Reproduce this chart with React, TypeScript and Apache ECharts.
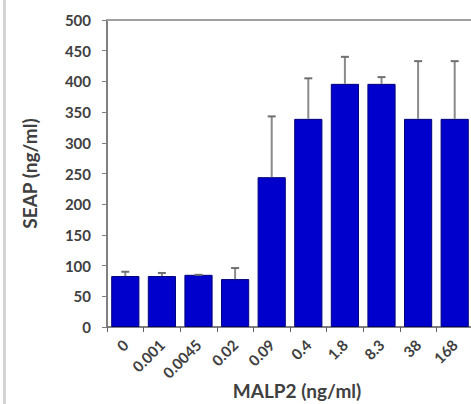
import React, { useEffect, useRef } from "react";
import * as echarts from "echarts";

const categories = ["0", "0.001", "0.0045", "0.02", "0.09", "0.4", "1.8", "8.3", "38", "168"];
const seapValues = [83, 83, 85, 78, 244, 339, 396, 396, 339, 339];
const errorTops = [90, 88, 85, 96, 343, 405, 440, 407, 433, 433];

const FONT = "Lato, 'Open Sans', sans-serif";

export default function App() {
  const ref = useRef<HTMLDivElement>(null);
  useEffect(() => {
    document.body.style.margin = "0";
    const chart = echarts.init(ref.current!, null, { renderer: "svg" });
    const errData = categories.map((_, i) => [i, seapValues[i], errorTops[i]]);
    chart.setOption({
      animation: false,
      backgroundColor: "#ffffff",
      grid: { left: 107, top: 20, width: 366, height: 307, containLabel: false, outerBoundsMode: "none" },
      xAxis: [
        {
          type: "category",
          data: categories,
          position: "bottom",
          axisLine: { lineStyle: { color: "#808080", width: 2 } },
          axisTick: { show: true, length: 5, alignWithLabel: false, lineStyle: { color: "#606060", width: 1 } },
          axisLabel: {
            rotate: 45,
            margin: 15,
            interval: 0,
            fontFamily: FONT,
            fontWeight: "bold",
            fontSize: 15,
            color: "#404040",
          },
          name: "MALP2 (ng/ml)",
          nameLocation: "middle",
          nameGap: 54,
          nameMoveOverlap: false,
          nameTextStyle: { fontFamily: FONT, fontWeight: "bold", fontSize: 19, color: "#404040", padding: [0, 0, 0, 14] },
        },
        {
          type: "category",
          data: categories,
          position: "top",
          axisLine: { lineStyle: { color: "#a0a0a0", width: 2 } },
          axisTick: { show: false },
          axisLabel: { show: false },
        },
      ],
      yAxis: {
        type: "value",
        min: 0,
        max: 500,
        interval: 50,
        axisLine: { show: true, lineStyle: { color: "#808080", width: 2 } },
        axisTick: { show: true, length: 5, lineStyle: { color: "#808080", width: 1 } },
        splitLine: { show: false },
        axisLabel: {
          margin: 16,
          fontFamily: FONT,
          fontWeight: "bold",
          fontSize: 15,
          color: "#404040",
        },
        name: "SEAP (ng/ml)",
        nameLocation: "middle",
        nameGap: 68,
        nameMoveOverlap: false,
        nameTextStyle: { fontFamily: FONT, fontWeight: "bold", fontSize: 19, color: "#404040" },
      },
      series: [
        {
          type: "bar",
          data: seapValues,
          barWidth: "77%",
          itemStyle: { color: "#0000CC", borderColor: "#00007a", borderWidth: 1 },
          z: 2,
        },
        {
          type: "custom",
          data: errData,
          z: 3,
          renderItem: (params: any, api: any) => {
            const i = api.value(0);
            const lo = api.coord([i, api.value(1)]);
            const hi = api.coord([i, api.value(2)]);
            const cap = 4;
            return {
              type: "group",
              children: [
                {
                  type: "line",
                  shape: { x1: lo[0], y1: lo[1], x2: hi[0], y2: hi[1] },
                  style: { stroke: "#8a8a8a", lineWidth: 2 },
                },
                {
                  type: "line",
                  shape: { x1: hi[0] - cap, y1: hi[1], x2: hi[0] + cap, y2: hi[1] },
                  style: { stroke: "#707070", lineWidth: 2 },
                },
              ],
            };
          },
        },
      ],
      graphic: [
        {
          type: "rect",
          shape: { x: 3, y: 0, width: 3, height: 404 },
          style: { fill: "#d4d4d4" },
          silent: true,
        },
      ],
    });
    return () => chart.dispose();
  }, []);
  return <div ref={ref} style={{ width: 471, height: 404 }} />;
}
